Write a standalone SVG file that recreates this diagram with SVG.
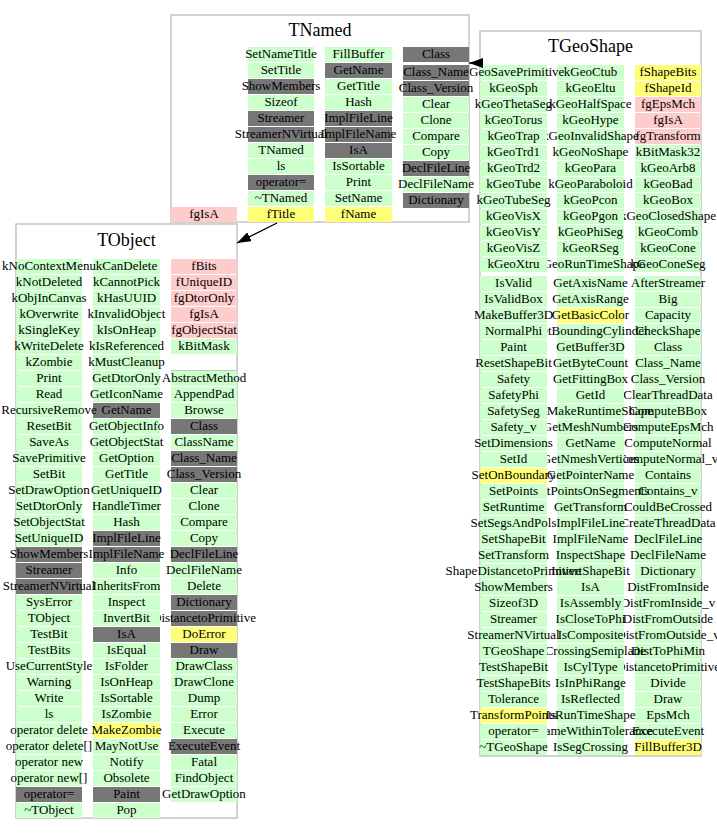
<svg xmlns="http://www.w3.org/2000/svg" width="717" height="833" viewBox="0 0 717 833">
<style>
.box{fill:#fff;stroke:#c4c4c4;stroke-width:1.5}
.g{fill:#ccffcc}
.d{fill:#777777}
.p{fill:#ffcccc}
.y{fill:#ffff77}
text{font-family:"Liberation Serif","Times New Roman",serif;fill:#000}
.t{font-size:13px;text-anchor:middle}
.h{font-size:18px;text-anchor:middle}
.e{fill:none;stroke:#000;stroke-width:1.2}
.sep{fill:none;stroke:#c4c4c4;stroke-width:1}
</style>
<defs>
<marker id="ah" viewBox="0 0 14 10" refX="14" refY="5" markerWidth="14" markerHeight="10" orient="auto" markerUnits="userSpaceOnUse"><path d="M0,0 L14,5 L0,10 z" fill="#000"/></marker>
<clipPath id="kG2"><rect x="547" y="0" width="170" height="833"/></clipPath>
<clipPath id="kG3"><rect x="624" y="0" width="93" height="833"/></clipPath>
<clipPath id="kO2"><rect x="82" y="0" width="635" height="833"/></clipPath>
<clipPath id="kO3"><rect x="160" y="0" width="557" height="833"/></clipPath>
<clipPath id="kN2"><rect x="314" y="0" width="403" height="833"/></clipPath>
<clipPath id="kN3"><rect x="392" y="0" width="325" height="833"/></clipPath>
</defs>
<rect x="0" y="0" width="717" height="833" fill="#fff"/>

<g id="TGeoShape">
<rect class="box" x="480" y="31" width="221" height="725"/>
<text class="h" x="590.5" y="52">TGeoShape</text>
<g>
<rect class="g" x="480" y="65" width="67" height="15"/><rect class="g" x="480" y="81" width="67" height="15"/><rect class="g" x="480" y="97" width="67" height="15"/><rect class="g" x="480" y="113" width="67" height="15"/><rect class="g" x="480" y="129" width="67" height="15"/><rect class="g" x="480" y="145" width="67" height="15"/><rect class="g" x="480" y="161" width="67" height="15"/><rect class="g" x="480" y="177" width="67" height="15"/><rect class="g" x="480" y="193" width="67" height="15"/><rect class="g" x="480" y="209" width="67" height="15"/><rect class="g" x="480" y="225" width="67" height="15"/><rect class="g" x="480" y="241" width="67" height="15"/><rect class="g" x="480" y="257" width="67" height="15"/>
<rect class="g" x="480" y="276" width="67" height="15"/><rect class="g" x="480" y="292" width="67" height="15"/><rect class="g" x="480" y="308" width="67" height="15"/><rect class="g" x="480" y="324" width="67" height="15"/><rect class="g" x="480" y="340" width="67" height="15"/><rect class="g" x="480" y="356" width="67" height="15"/><rect class="g" x="480" y="372" width="67" height="15"/><rect class="g" x="480" y="388" width="67" height="15"/><rect class="g" x="480" y="404" width="67" height="15"/><rect class="g" x="480" y="420" width="67" height="15"/><rect class="g" x="480" y="436" width="67" height="15"/><rect class="g" x="480" y="452" width="67" height="15"/><rect class="y" x="480" y="468" width="67" height="15"/><rect class="g" x="480" y="484" width="67" height="15"/><rect class="g" x="480" y="500" width="67" height="15"/><rect class="g" x="480" y="516" width="67" height="15"/><rect class="g" x="480" y="532" width="67" height="15"/><rect class="g" x="480" y="548" width="67" height="15"/><rect class="g" x="480" y="564" width="67" height="15"/><rect class="g" x="480" y="580" width="67" height="15"/><rect class="g" x="480" y="596" width="67" height="15"/><rect class="g" x="480" y="612" width="67" height="15"/><rect class="g" x="480" y="628" width="67" height="15"/><rect class="g" x="480" y="644" width="67" height="15"/><rect class="g" x="480" y="660" width="67" height="15"/><rect class="g" x="480" y="676" width="67" height="15"/><rect class="g" x="480" y="692" width="67" height="15"/><rect class="y" x="480" y="708" width="67" height="15"/><rect class="g" x="480" y="724" width="67" height="15"/><rect class="g" x="480" y="740" width="67" height="15"/>
</g>
<g>
<rect class="g" x="557" y="65" width="67" height="15"/><rect class="g" x="557" y="81" width="67" height="15"/><rect class="g" x="557" y="97" width="67" height="15"/><rect class="g" x="557" y="113" width="67" height="15"/><rect class="g" x="557" y="129" width="67" height="15"/><rect class="g" x="557" y="145" width="67" height="15"/><rect class="g" x="557" y="161" width="67" height="15"/><rect class="g" x="557" y="177" width="67" height="15"/><rect class="g" x="557" y="193" width="67" height="15"/><rect class="g" x="557" y="209" width="67" height="15"/><rect class="g" x="557" y="225" width="67" height="15"/><rect class="g" x="557" y="241" width="67" height="15"/><rect class="g" x="557" y="257" width="67" height="15"/>
<rect class="g" x="557" y="276" width="67" height="15"/><rect class="g" x="557" y="292" width="67" height="15"/><rect class="y" x="557" y="308" width="67" height="15"/><rect class="g" x="557" y="324" width="67" height="15"/><rect class="g" x="557" y="340" width="67" height="15"/><rect class="g" x="557" y="356" width="67" height="15"/><rect class="g" x="557" y="372" width="67" height="15"/><rect class="g" x="557" y="388" width="67" height="15"/><rect class="g" x="557" y="404" width="67" height="15"/><rect class="g" x="557" y="420" width="67" height="15"/><rect class="g" x="557" y="436" width="67" height="15"/><rect class="g" x="557" y="452" width="67" height="15"/><rect class="g" x="557" y="468" width="67" height="15"/><rect class="g" x="557" y="484" width="67" height="15"/><rect class="g" x="557" y="500" width="67" height="15"/><rect class="g" x="557" y="516" width="67" height="15"/><rect class="g" x="557" y="532" width="67" height="15"/><rect class="g" x="557" y="548" width="67" height="15"/><rect class="g" x="557" y="564" width="67" height="15"/><rect class="g" x="557" y="580" width="67" height="15"/><rect class="g" x="557" y="596" width="67" height="15"/><rect class="g" x="557" y="612" width="67" height="15"/><rect class="g" x="557" y="628" width="67" height="15"/><rect class="g" x="557" y="644" width="67" height="15"/><rect class="g" x="557" y="660" width="67" height="15"/><rect class="g" x="557" y="676" width="67" height="15"/><rect class="g" x="557" y="692" width="67" height="15"/><rect class="g" x="557" y="708" width="67" height="15"/><rect class="g" x="557" y="724" width="67" height="15"/><rect class="g" x="557" y="740" width="67" height="15"/>
</g>
<g>
<rect class="y" x="635" y="65" width="66" height="15"/><rect class="y" x="635" y="81" width="66" height="15"/><rect class="p" x="635" y="97" width="66" height="15"/><rect class="p" x="635" y="113" width="66" height="15"/><rect class="p" x="635" y="129" width="66" height="15"/><rect class="g" x="635" y="145" width="66" height="15"/><rect class="g" x="635" y="161" width="66" height="15"/><rect class="g" x="635" y="177" width="66" height="15"/><rect class="g" x="635" y="193" width="66" height="15"/><rect class="g" x="635" y="209" width="66" height="15"/><rect class="g" x="635" y="225" width="66" height="15"/><rect class="g" x="635" y="241" width="66" height="15"/><rect class="g" x="635" y="257" width="66" height="15"/>
<rect class="g" x="635" y="276" width="66" height="15"/><rect class="g" x="635" y="292" width="66" height="15"/><rect class="g" x="635" y="308" width="66" height="15"/><rect class="g" x="635" y="324" width="66" height="15"/><rect class="g" x="635" y="340" width="66" height="15"/><rect class="g" x="635" y="356" width="66" height="15"/><rect class="g" x="635" y="372" width="66" height="15"/><rect class="g" x="635" y="388" width="66" height="15"/><rect class="g" x="635" y="404" width="66" height="15"/><rect class="g" x="635" y="420" width="66" height="15"/><rect class="g" x="635" y="436" width="66" height="15"/><rect class="g" x="635" y="452" width="66" height="15"/><rect class="g" x="635" y="468" width="66" height="15"/><rect class="g" x="635" y="484" width="66" height="15"/><rect class="g" x="635" y="500" width="66" height="15"/><rect class="g" x="635" y="516" width="66" height="15"/><rect class="g" x="635" y="532" width="66" height="15"/><rect class="g" x="635" y="548" width="66" height="15"/><rect class="g" x="635" y="564" width="66" height="15"/><rect class="g" x="635" y="580" width="66" height="15"/><rect class="g" x="635" y="596" width="66" height="15"/><rect class="g" x="635" y="612" width="66" height="15"/><rect class="g" x="635" y="628" width="66" height="15"/><rect class="g" x="635" y="644" width="66" height="15"/><rect class="g" x="635" y="660" width="66" height="15"/><rect class="g" x="635" y="676" width="66" height="15"/><rect class="g" x="635" y="692" width="66" height="15"/><rect class="g" x="635" y="708" width="66" height="15"/><rect class="g" x="635" y="724" width="66" height="15"/><rect class="y" x="635" y="740" width="66" height="15"/>
</g>
<g class="t">
<text x="513.5" y="76">kGeoSavePrimitive</text><text x="513.5" y="92">kGeoSph</text><text x="513.5" y="108">kGeoThetaSeg</text><text x="513.5" y="124">kGeoTorus</text><text x="513.5" y="140">kGeoTrap</text><text x="513.5" y="156">kGeoTrd1</text><text x="513.5" y="172">kGeoTrd2</text><text x="513.5" y="188">kGeoTube</text><text x="513.5" y="204">kGeoTubeSeg</text><text x="513.5" y="220">kGeoVisX</text><text x="513.5" y="236">kGeoVisY</text><text x="513.5" y="252">kGeoVisZ</text><text x="513.5" y="268">kGeoXtru</text>
<text x="513.5" y="287">IsValid</text><text x="513.5" y="303">IsValidBox</text><text x="513.5" y="319">MakeBuffer3D</text><text x="513.5" y="335">NormalPhi</text><text x="513.5" y="351">Paint</text><text x="513.5" y="367">ResetShapeBit</text><text x="513.5" y="383">Safety</text><text x="513.5" y="399">SafetyPhi</text><text x="513.5" y="415">SafetySeg</text><text x="513.5" y="431">Safety_v</text><text x="513.5" y="447">SetDimensions</text><text x="513.5" y="463">SetId</text><text x="513.5" y="479">SetOnBoundary</text><text x="513.5" y="495">SetPoints</text><text x="513.5" y="511">SetRuntime</text><text x="513.5" y="527">SetSegsAndPols</text><text x="513.5" y="543">SetShapeBit</text><text x="513.5" y="559">SetTransform</text><text x="513.5" y="575">ShapeDistancetoPrimitive</text><text x="513.5" y="591">ShowMembers</text><text x="513.5" y="607">Sizeof3D</text><text x="513.5" y="623">Streamer</text><text x="513.5" y="639">StreamerNVirtual</text><text x="513.5" y="655">TGeoShape</text><text x="513.5" y="671">TestShapeBit</text><text x="513.5" y="687">TestShapeBits</text><text x="513.5" y="703">Tolerance</text><text x="513.5" y="719">TransformPoints</text><text x="513.5" y="735">operator=</text><text x="513.5" y="751">~TGeoShape</text>
</g>
<g class="t" clip-path="url(#kG2)">
<text x="590.5" y="76">kGeoCtub</text><text x="590.5" y="92">kGeoEltu</text><text x="590.5" y="108">kGeoHalfSpace</text><text x="590.5" y="124">kGeoHype</text><text x="590.5" y="140">kGeoInvalidShape</text><text x="590.5" y="156">kGeoNoShape</text><text x="590.5" y="172">kGeoPara</text><text x="590.5" y="188">kGeoParaboloid</text><text x="590.5" y="204">kGeoPcon</text><text x="590.5" y="220">kGeoPgon</text><text x="590.5" y="236">kGeoPhiSeg</text><text x="590.5" y="252">kGeoRSeg</text><text x="590.5" y="268">kGeoRunTimeShape</text>
<text x="590.5" y="287">GetAxisName</text><text x="590.5" y="303">GetAxisRange</text><text x="590.5" y="319">GetBasicColor</text><text x="590.5" y="335">GetBoundingCylinder</text><text x="590.5" y="351">GetBuffer3D</text><text x="590.5" y="367">GetByteCount</text><text x="590.5" y="383">GetFittingBox</text><text x="590.5" y="399">GetId</text><text x="590.5" y="415">GetMakeRuntimeShape</text><text x="590.5" y="431">GetMeshNumbers</text><text x="590.5" y="447">GetName</text><text x="590.5" y="463">GetNmeshVertices</text><text x="590.5" y="479">GetPointerName</text><text x="590.5" y="495">GetPointsOnSegments</text><text x="590.5" y="511">GetTransform</text><text x="590.5" y="527">ImplFileLine</text><text x="590.5" y="543">ImplFileName</text><text x="590.5" y="559">InspectShape</text><text x="590.5" y="575">InvertShapeBit</text><text x="590.5" y="591">IsA</text><text x="590.5" y="607">IsAssembly</text><text x="590.5" y="623">IsCloseToPhi</text><text x="590.5" y="639">IsComposite</text><text x="590.5" y="655">IsCrossingSemiplane</text><text x="590.5" y="671">IsCylType</text><text x="590.5" y="687">IsInPhiRange</text><text x="590.5" y="703">IsReflected</text><text x="590.5" y="719">IsRunTimeShape</text><text x="590.5" y="735">IsSameWithinTolerance</text><text x="590.5" y="751">IsSegCrossing</text>
</g>
<g class="t" clip-path="url(#kG3)">
<text x="668" y="76">fShapeBits</text><text x="668" y="92">fShapeId</text><text x="668" y="108">fgEpsMch</text><text x="668" y="124">fgIsA</text><text x="668" y="140">fgTransform</text><text x="668" y="156">kBitMask32</text><text x="668" y="172">kGeoArb8</text><text x="668" y="188">kGeoBad</text><text x="668" y="204">kGeoBox</text><text x="668" y="220">kGeoClosedShape</text><text x="668" y="236">kGeoComb</text><text x="668" y="252">kGeoCone</text><text x="668" y="268">kGeoConeSeg</text>
<text x="668" y="287">AfterStreamer</text><text x="668" y="303">Big</text><text x="668" y="319">Capacity</text><text x="668" y="335">CheckShape</text><text x="668" y="351">Class</text><text x="668" y="367">Class_Name</text><text x="668" y="383">Class_Version</text><text x="668" y="399">ClearThreadData</text><text x="668" y="415">ComputeBBox</text><text x="668" y="431">ComputeEpsMch</text><text x="668" y="447">ComputeNormal</text><text x="668" y="463">ComputeNormal_v</text><text x="668" y="479">Contains</text><text x="668" y="495">Contains_v</text><text x="668" y="511">CouldBeCrossed</text><text x="668" y="527">CreateThreadData</text><text x="668" y="543">DeclFileLine</text><text x="668" y="559">DeclFileName</text><text x="668" y="575">Dictionary</text><text x="668" y="591">DistFromInside</text><text x="668" y="607">DistFromInside_v</text><text x="668" y="623">DistFromOutside</text><text x="668" y="639">DistFromOutside_v</text><text x="668" y="655">DistToPhiMin</text><text x="668" y="671">DistancetoPrimitive</text><text x="668" y="687">Divide</text><text x="668" y="703">Draw</text><text x="668" y="719">EpsMch</text><text x="668" y="735">ExecuteEvent</text><text x="668" y="751">FillBuffer3D</text>
</g>
</g>

<g id="TNamed">
<rect class="box" x="171" y="15" width="298" height="207"/>
<text class="h" x="320" y="36">TNamed</text>
<rect class="p" x="171" y="207" width="66" height="15"/>
<rect class="g" x="248" y="47" width="66" height="15"/><rect class="g" x="248" y="63" width="66" height="15"/><rect class="d" x="248" y="79" width="66" height="15"/><rect class="g" x="248" y="95" width="66" height="15"/><rect class="d" x="248" y="111" width="66" height="15"/><rect class="d" x="248" y="127" width="66" height="15"/><rect class="g" x="248" y="143" width="66" height="15"/><rect class="g" x="248" y="159" width="66" height="15"/><rect class="d" x="248" y="175" width="66" height="15"/><rect class="g" x="248" y="191" width="66" height="15"/><rect class="y" x="248" y="207" width="66" height="15"/>
<rect class="g" x="325" y="47" width="67" height="15"/><rect class="d" x="325" y="63" width="67" height="15"/><rect class="g" x="325" y="79" width="67" height="15"/><rect class="g" x="325" y="95" width="67" height="15"/><rect class="d" x="325" y="111" width="67" height="15"/><rect class="d" x="325" y="127" width="67" height="15"/><rect class="d" x="325" y="143" width="67" height="15"/><rect class="g" x="325" y="159" width="67" height="15"/><rect class="g" x="325" y="175" width="67" height="15"/><rect class="g" x="325" y="191" width="67" height="15"/><rect class="y" x="325" y="207" width="67" height="15"/>
<rect class="d" x="403" y="47" width="66" height="15"/><rect class="d" x="403" y="65" width="66" height="15"/><rect class="d" x="403" y="81" width="66" height="15"/><rect class="g" x="403" y="97" width="66" height="15"/><rect class="g" x="403" y="113" width="66" height="15"/><rect class="g" x="403" y="129" width="66" height="15"/><rect class="g" x="403" y="145" width="66" height="15"/><rect class="d" x="403" y="161" width="66" height="15"/><rect class="g" x="403" y="177" width="66" height="15"/><rect class="d" x="403" y="193" width="66" height="15"/>
<g class="t">
<text x="204" y="218">fgIsA</text>
<text x="281" y="58">SetNameTitle</text><text x="281" y="74">SetTitle</text><text x="281" y="90">ShowMembers</text><text x="281" y="106">Sizeof</text><text x="281" y="122">Streamer</text><text x="281" y="138">StreamerNVirtual</text><text x="281" y="154">TNamed</text><text x="281" y="170">ls</text><text x="281" y="186">operator=</text><text x="281" y="202">~TNamed</text><text x="281" y="218">fTitle</text>
</g>
<g class="t" clip-path="url(#kN2)">
<text x="358.5" y="58">FillBuffer</text><text x="358.5" y="74">GetName</text><text x="358.5" y="90">GetTitle</text><text x="358.5" y="106">Hash</text><text x="358.5" y="122">ImplFileLine</text><text x="358.5" y="138">ImplFileName</text><text x="358.5" y="154">IsA</text><text x="358.5" y="170">IsSortable</text><text x="358.5" y="186">Print</text><text x="358.5" y="202">SetName</text><text x="358.5" y="218">fName</text>
</g>
<g class="t" clip-path="url(#kN3)">
<text x="436" y="58">Class</text><text x="436" y="76">Class_Name</text><text x="436" y="92">Class_Version</text><text x="436" y="108">Clear</text><text x="436" y="124">Clone</text><text x="436" y="140">Compare</text><text x="436" y="156">Copy</text><text x="436" y="172">DeclFileLine</text><text x="436" y="188">DeclFileName</text><text x="436" y="204">Dictionary</text>
</g>
</g>

<g id="TObject">
<rect class="box" x="16" y="224" width="221" height="594"/>
<text class="h" x="126.5" y="246">TObject</text>
<path class="sep" d="M171,370.5 H237"/>
<g>
<rect class="g" x="16" y="259" width="66" height="15"/><rect class="g" x="16" y="275" width="66" height="15"/><rect class="g" x="16" y="291" width="66" height="15"/><rect class="g" x="16" y="307" width="66" height="15"/><rect class="g" x="16" y="323" width="66" height="15"/><rect class="g" x="16" y="339" width="66" height="15"/><rect class="g" x="16" y="355" width="66" height="15"/><rect class="g" x="16" y="371" width="66" height="15"/><rect class="g" x="16" y="387" width="66" height="15"/><rect class="g" x="16" y="403" width="66" height="15"/><rect class="g" x="16" y="419" width="66" height="15"/><rect class="g" x="16" y="435" width="66" height="15"/><rect class="g" x="16" y="451" width="66" height="15"/><rect class="g" x="16" y="467" width="66" height="15"/><rect class="g" x="16" y="483" width="66" height="15"/><rect class="g" x="16" y="499" width="66" height="15"/><rect class="g" x="16" y="515" width="66" height="15"/><rect class="g" x="16" y="531" width="66" height="15"/><rect class="d" x="16" y="547" width="66" height="15"/><rect class="d" x="16" y="563" width="66" height="15"/><rect class="d" x="16" y="579" width="66" height="15"/><rect class="g" x="16" y="595" width="66" height="15"/><rect class="g" x="16" y="611" width="66" height="15"/><rect class="g" x="16" y="627" width="66" height="15"/><rect class="g" x="16" y="643" width="66" height="15"/><rect class="g" x="16" y="659" width="66" height="15"/><rect class="g" x="16" y="675" width="66" height="15"/><rect class="g" x="16" y="691" width="66" height="15"/><rect class="g" x="16" y="707" width="66" height="15"/><rect class="g" x="16" y="723" width="66" height="15"/><rect class="g" x="16" y="739" width="66" height="15"/><rect class="g" x="16" y="755" width="66" height="15"/><rect class="g" x="16" y="771" width="66" height="15"/><rect class="d" x="16" y="787" width="66" height="15"/><rect class="g" x="16" y="803" width="66" height="15"/>
</g>
<g>
<rect class="g" x="93" y="259" width="67" height="15"/><rect class="g" x="93" y="275" width="67" height="15"/><rect class="g" x="93" y="291" width="67" height="15"/><rect class="g" x="93" y="307" width="67" height="15"/><rect class="g" x="93" y="323" width="67" height="15"/><rect class="g" x="93" y="339" width="67" height="15"/><rect class="g" x="93" y="355" width="67" height="15"/><rect class="g" x="93" y="371" width="67" height="15"/><rect class="g" x="93" y="387" width="67" height="15"/><rect class="d" x="93" y="403" width="67" height="15"/><rect class="g" x="93" y="419" width="67" height="15"/><rect class="g" x="93" y="435" width="67" height="15"/><rect class="g" x="93" y="451" width="67" height="15"/><rect class="g" x="93" y="467" width="67" height="15"/><rect class="g" x="93" y="483" width="67" height="15"/><rect class="g" x="93" y="499" width="67" height="15"/><rect class="g" x="93" y="515" width="67" height="15"/><rect class="d" x="93" y="531" width="67" height="15"/><rect class="d" x="93" y="547" width="67" height="15"/><rect class="g" x="93" y="563" width="67" height="15"/><rect class="g" x="93" y="579" width="67" height="15"/><rect class="g" x="93" y="595" width="67" height="15"/><rect class="g" x="93" y="611" width="67" height="15"/><rect class="d" x="93" y="627" width="67" height="15"/><rect class="g" x="93" y="643" width="67" height="15"/><rect class="g" x="93" y="659" width="67" height="15"/><rect class="g" x="93" y="675" width="67" height="15"/><rect class="g" x="93" y="691" width="67" height="15"/><rect class="g" x="93" y="707" width="67" height="15"/><rect class="y" x="93" y="723" width="67" height="15"/><rect class="g" x="93" y="739" width="67" height="15"/><rect class="g" x="93" y="755" width="67" height="15"/><rect class="g" x="93" y="771" width="67" height="15"/><rect class="d" x="93" y="787" width="67" height="15"/><rect class="g" x="93" y="803" width="67" height="15"/>
</g>
<g>
<rect class="p" x="171" y="259" width="66" height="15"/><rect class="p" x="171" y="275" width="66" height="15"/><rect class="p" x="171" y="291" width="66" height="15"/><rect class="p" x="171" y="307" width="66" height="15"/><rect class="p" x="171" y="323" width="66" height="15"/><rect class="g" x="171" y="339" width="66" height="15"/>
<rect class="g" x="171" y="371" width="66" height="15"/><rect class="g" x="171" y="387" width="66" height="15"/><rect class="g" x="171" y="403" width="66" height="15"/><rect class="d" x="171" y="419" width="66" height="15"/><rect class="g" x="171" y="435" width="66" height="15"/><rect class="d" x="171" y="451" width="66" height="15"/><rect class="d" x="171" y="467" width="66" height="15"/><rect class="g" x="171" y="483" width="66" height="15"/><rect class="g" x="171" y="499" width="66" height="15"/><rect class="g" x="171" y="515" width="66" height="15"/><rect class="g" x="171" y="531" width="66" height="15"/><rect class="d" x="171" y="547" width="66" height="15"/><rect class="g" x="171" y="563" width="66" height="15"/><rect class="g" x="171" y="579" width="66" height="15"/><rect class="d" x="171" y="595" width="66" height="15"/><rect class="d" x="171" y="611" width="66" height="15"/><rect class="y" x="171" y="627" width="66" height="15"/><rect class="d" x="171" y="643" width="66" height="15"/><rect class="g" x="171" y="659" width="66" height="15"/><rect class="g" x="171" y="675" width="66" height="15"/><rect class="g" x="171" y="691" width="66" height="15"/><rect class="g" x="171" y="707" width="66" height="15"/><rect class="g" x="171" y="723" width="66" height="15"/><rect class="d" x="171" y="739" width="66" height="15"/><rect class="g" x="171" y="755" width="66" height="15"/><rect class="g" x="171" y="771" width="66" height="15"/><rect class="g" x="171" y="787" width="66" height="15"/>
</g>
<g class="t">
<text x="49" y="270">kNoContextMenu</text><text x="49" y="286">kNotDeleted</text><text x="49" y="302">kObjInCanvas</text><text x="49" y="318">kOverwrite</text><text x="49" y="334">kSingleKey</text><text x="49" y="350">kWriteDelete</text><text x="49" y="366">kZombie</text><text x="49" y="382">Print</text><text x="49" y="398">Read</text><text x="49" y="414">RecursiveRemove</text><text x="49" y="430">ResetBit</text><text x="49" y="446">SaveAs</text><text x="49" y="462">SavePrimitive</text><text x="49" y="478">SetBit</text><text x="49" y="494">SetDrawOption</text><text x="49" y="510">SetDtorOnly</text><text x="49" y="526">SetObjectStat</text><text x="49" y="542">SetUniqueID</text><text x="49" y="558">ShowMembers</text><text x="49" y="574">Streamer</text><text x="49" y="590">StreamerNVirtual</text><text x="49" y="606">SysError</text><text x="49" y="622">TObject</text><text x="49" y="638">TestBit</text><text x="49" y="654">TestBits</text><text x="49" y="670">UseCurrentStyle</text><text x="49" y="686">Warning</text><text x="49" y="702">Write</text><text x="49" y="718">ls</text><text x="49" y="734">operator delete</text><text x="49" y="750">operator delete[]</text><text x="49" y="766">operator new</text><text x="49" y="782">operator new[]</text><text x="49" y="798">operator=</text><text x="49" y="814">~TObject</text>
</g>
<g class="t" clip-path="url(#kO2)">
<text x="126.5" y="270">kCanDelete</text><text x="126.5" y="286">kCannotPick</text><text x="126.5" y="302">kHasUUID</text><text x="126.5" y="318">kInvalidObject</text><text x="126.5" y="334">kIsOnHeap</text><text x="126.5" y="350">kIsReferenced</text><text x="126.5" y="366">kMustCleanup</text><text x="126.5" y="382">GetDtorOnly</text><text x="126.5" y="398">GetIconName</text><text x="126.5" y="414">GetName</text><text x="126.5" y="430">GetObjectInfo</text><text x="126.5" y="446">GetObjectStat</text><text x="126.5" y="462">GetOption</text><text x="126.5" y="478">GetTitle</text><text x="126.5" y="494">GetUniqueID</text><text x="126.5" y="510">HandleTimer</text><text x="126.5" y="526">Hash</text><text x="126.5" y="542">ImplFileLine</text><text x="126.5" y="558">ImplFileName</text><text x="126.5" y="574">Info</text><text x="126.5" y="590">InheritsFrom</text><text x="126.5" y="606">Inspect</text><text x="126.5" y="622">InvertBit</text><text x="126.5" y="638">IsA</text><text x="126.5" y="654">IsEqual</text><text x="126.5" y="670">IsFolder</text><text x="126.5" y="686">IsOnHeap</text><text x="126.5" y="702">IsSortable</text><text x="126.5" y="718">IsZombie</text><text x="126.5" y="734">MakeZombie</text><text x="126.5" y="750">MayNotUse</text><text x="126.5" y="766">Notify</text><text x="126.5" y="782">Obsolete</text><text x="126.5" y="798">Paint</text><text x="126.5" y="814">Pop</text>
</g>
<g class="t" clip-path="url(#kO3)">
<text x="204" y="270">fBits</text><text x="204" y="286">fUniqueID</text><text x="204" y="302">fgDtorOnly</text><text x="204" y="318">fgIsA</text><text x="204" y="334">fgObjectStat</text><text x="204" y="350">kBitMask</text>
<text x="204" y="382">AbstractMethod</text><text x="204" y="398">AppendPad</text><text x="204" y="414">Browse</text><text x="204" y="430">Class</text><text x="204" y="446">ClassName</text><text x="204" y="462">Class_Name</text><text x="204" y="478">Class_Version</text><text x="204" y="494">Clear</text><text x="204" y="510">Clone</text><text x="204" y="526">Compare</text><text x="204" y="542">Copy</text><text x="204" y="558">DeclFileLine</text><text x="204" y="574">DeclFileName</text><text x="204" y="590">Delete</text><text x="204" y="606">Dictionary</text><text x="204" y="622">DistancetoPrimitive</text><text x="204" y="638">DoError</text><text x="204" y="654">Draw</text><text x="204" y="670">DrawClass</text><text x="204" y="686">DrawClone</text><text x="204" y="702">Dump</text><text x="204" y="718">Error</text><text x="204" y="734">Execute</text><text x="204" y="750">ExecuteEvent</text><text x="204" y="766">Fatal</text><text x="204" y="782">FindObject</text><text x="204" y="798">GetDrawOption</text>
</g>
</g>

<g id="connectors">
<path class="e" d="M482,63 L469,63" marker-end="url(#ah)"/>
<path class="e" d="M277,223 L237,243" marker-end="url(#ah)"/>
</g>
</svg>
